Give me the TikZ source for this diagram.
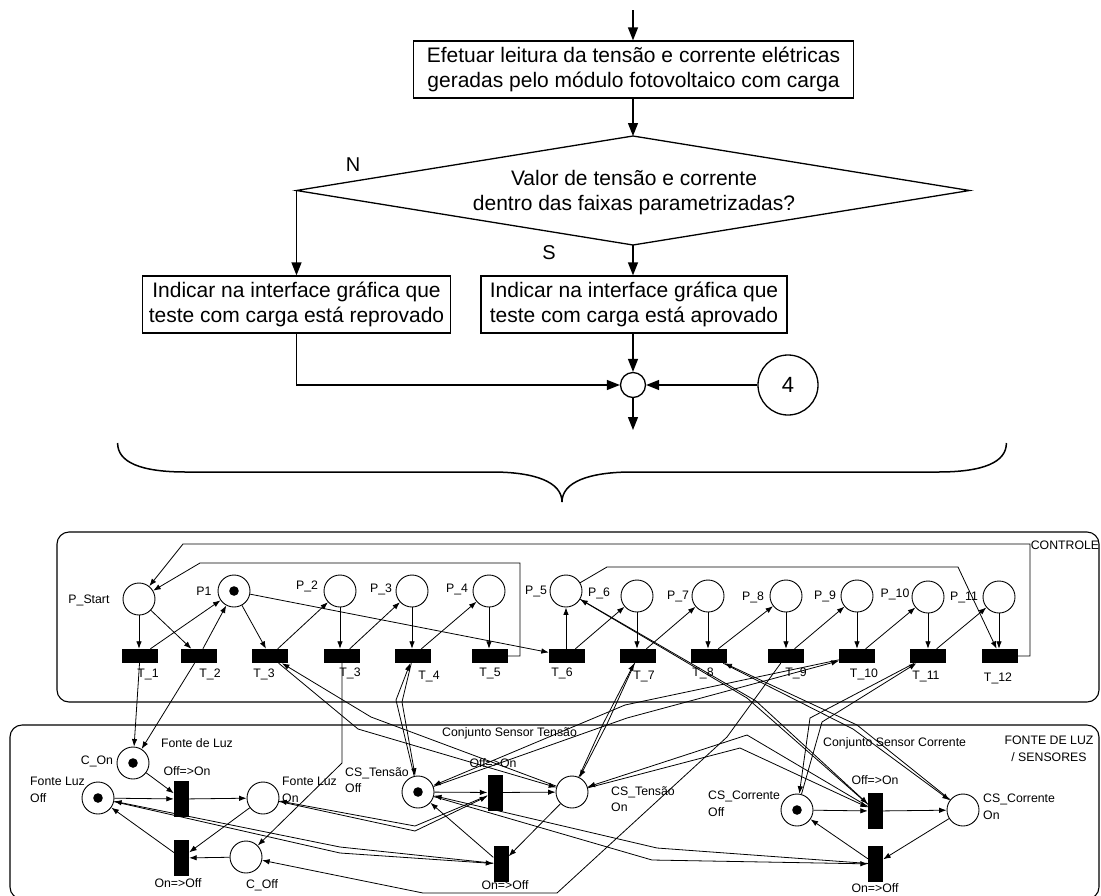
\documentclass[tikz,border=0pt]{standalone}
\usepackage{fontspec}
\setmainfont{Liberation Sans}
\usetikzlibrary{arrows.meta,calc}
\begin{document}
\begin{tikzpicture}[x=1pt,y=-1pt,
  ftext/.style={inner sep=0pt,align=center,font=\fontsize{21}{25}\selectfont},
  flow/.style={ftext,draw,line width=1.3pt,minimum height=57pt},
  farr/.style={line width=1.3pt,-{Triangle[length=13pt,width=10pt]}},
  fline/.style={line width=1.3pt},
  pl/.style={draw,circle,line width=0.9pt,minimum size=32pt,inner sep=0pt},
  tr/.style={fill=black,minimum width=36pt,minimum height=14pt,inner sep=0pt},
  trv/.style={fill=black,minimum width=15pt,minimum height=36pt,inner sep=0pt},
  lbl/.style={inner sep=0pt,align=left,font=\fontsize{12.3}{16.5}\selectfont},
  arc/.style={line width=0.8pt,-{Latex[length=7.5pt,width=5.5pt]}},
  grp/.style={draw,line width=1.1pt,rounded corners=12pt},
]
\useasboundingbox (0,0) rectangle (1101,895);

% ---------------- flowchart ----------------
\coordinate (fstart) at (633,10);
\node[flow,minimum width=440pt] (b1) at (633.5,69.5)
  {Efetuar leitura da tensão e corrente elétricas\\geradas pelo módulo fotovoltaico com carga};
\coordinate (dT) at (633,136);
\coordinate (dL) at (296.5,190.5);
\coordinate (dR) at (969.5,190.5);
\coordinate (dB) at (633,245);
\draw[fline] (dT) -- (dR) -- (dB) -- (dL) -- cycle;
\node[ftext] (dq) at (634,192.5) {Valor de tensão e corrente\\dentro das faixas parametrizadas?};
\node[ftext,font=\fontsize{20}{24}\selectfont] (lN) at (353,165) {N};
\node[ftext,font=\fontsize{20}{24}\selectfont] (lS) at (549,253) {S};
\node[flow,minimum width=308pt] (lb) at (296.5,304.5)
  {Indicar na interface gráfica que\\teste com carga está reprovado};
\node[flow,minimum width=306pt] (rb) at (634,304.5)
  {Indicar na interface gráfica que\\teste com carga está aprovado};
\node[draw,circle,line width=1.3pt,minimum size=25pt,inner sep=0pt] (jc) at (633,385) {};
\node[draw,circle,line width=1.3pt,minimum size=60pt,inner sep=0pt,font=\fontsize{22}{26}\selectfont] (c4) at (788,385) {4};
\coordinate (fend) at (633,430);

\draw[farr] (fstart) -- (b1.north -| fstart);
\draw[farr] (b1.south -| dT) -- (dT);
\draw[farr] (dL) -- (dL |- lb.north);
\draw[farr] (dB) -- (dB |- rb.north);
\draw[farr] (lb.south) |- (jc.west);
\draw[farr] (jc.north |- rb.south) -- (jc.north);
\draw[farr] (c4.west) -- (jc.east);
\draw[farr] (jc.south) -- (fend);

% brace
\draw[line width=1.5pt] (117.6,443) .. controls (117.6,462) and (140,472) .. (186,472) -- (492,472)
  .. controls (535,472) and (562,482) .. (562,502);
\draw[line width=1.5pt] (562,502) .. controls (562,482) and (589,472) .. (632,472) -- (938,472)
  .. controls (984,472) and (1006.4,462) .. (1006.4,443);

% ---------------- group frames ----------------
\draw[grp] (57,532) rectangle (1099,702);
\draw[grp] (10,725) rectangle (1099,899);
\node[lbl] (tctl) at (1065,545) {CONTROLE};
\node[lbl,align=center] (tfls) at (1049,749) {FONTE DE LUZ\\/ SENSORES};

% ---------------- control net ----------------
\node[pl] (PS)  at (139,599) {};
\node[pl] (P1)  at (234,591) {};
\node[pl] (P2)  at (340,591) {};
\node[pl] (P3)  at (412,591) {};
\node[pl] (P4)  at (489,591) {};
\node[pl] (P5)  at (566,591) {};
\node[pl] (P6)  at (637,596) {};
\node[pl] (P7)  at (708,596) {};
\node[pl] (P8)  at (786,596) {};
\node[pl] (P9)  at (857,596) {};
\node[pl] (P10) at (928,597) {};
\node[pl] (P11) at (999,597) {};
\fill (P1) circle (4.8);

\node[tr] (T1)  at (140,656) {};
\node[tr] (T2)  at (199,656) {};
\node[tr] (T3)  at (270,656) {};
\node[tr] (T3b) at (342,656) {};
\node[tr] (T4)  at (413,656) {};
\node[tr] (T5)  at (490,656) {};
\node[tr] (T6)  at (567,656) {};
\node[tr] (T7)  at (638,656) {};
\node[tr] (T8)  at (709,656) {};
\node[tr] (T9)  at (786,656) {};
\node[tr] (T10) at (857,656) {};
\node[tr] (T11) at (928,656) {};
\node[tr] (T12) at (1000,656) {};

\node[lbl] (lPS)  at (89,600) {P\_Start};
\node[lbl] (lP1)  at (204,591) {P1};
\node[lbl] (lP2)  at (307,586) {P\_2};
\node[lbl] (lP3)  at (381,589) {P\_3};
\node[lbl] (lP4)  at (457,589) {P\_4};
\node[lbl] (lP5)  at (536,591) {P\_5};
\node[lbl] (lP6)  at (599,593) {P\_6};
\node[lbl] (lP7)  at (678,596) {P\_7};
\node[lbl] (lP8)  at (753,597) {P\_8};
\node[lbl] (lP9)  at (825,596) {P\_9};
\node[lbl] (lP10) at (895,594) {P\_10};
\node[lbl] (lP11) at (964,597) {P\_11};

\node[lbl] (lT1)  at (148,674) {T\_1};
\node[lbl] (lT2)  at (210,674) {T\_2};
\node[lbl] (lT3)  at (264,674) {T\_3};
\node[lbl] (lT3b) at (350,673) {T\_3};
\node[lbl] (lT4)  at (429,676) {T\_4};
\node[lbl] (lT5)  at (490,673) {T\_5};
\node[lbl] (lT6)  at (562,673) {T\_6};
\node[lbl] (lT7)  at (644,676) {T\_7};
\node[lbl] (lT8)  at (703,673) {T\_8};
\node[lbl] (lT9)  at (796,673) {T\_9};
\node[lbl] (lT10) at (864,674) {T\_10};
\node[lbl] (lT11) at (926,676) {T\_11};
\node[lbl] (lT12) at (998,678) {T\_12};

\draw[arc] (PS) -- (PS |- T1.north);
\draw[arc] (PS) -- (T2);
\draw[arc] (T1) -- (P1);
\draw[arc] (T2) -- (P1);
\draw[arc] (P1) -- (T3);
\draw[arc] (T3) -- (P2);
\draw[arc] (P1) -- (T6);
\draw[arc] (P2) -- (P2 |- T3b.north);
\draw[arc] (T3b) -- (P3);
\draw[arc] (P3) -- (P3 |- T4.north);
\draw[arc] (T4) -- (P4);
\draw[arc] (P4) -- (P4 |- T5.north);
\draw[arc] (T6.north -| P5) -- (P5);
\draw[arc] (T6) -- (P6);
\draw[arc] (P6) -- (P6 |- T7.north);
\draw[arc] (T7) -- (P7);
\draw[arc] (P7) -- (P7 |- T8.north);
\draw[arc] (T8) -- (P8);
\draw[arc] (P8) -- (P8 |- T9.north);
\draw[arc] (T9) -- (P9);
\draw[arc] (P9) -- (P9 |- T10.north);
\draw[arc] (T10) -- (P10);
\draw[arc] (P10) -- (P10 |- T11.north);
\draw[arc] (T11) -- (P11);
\draw[arc] (P11) -- (P11 |- T12.north);

% return loops
\coordinate (la1) at (520,563);
\coordinate (la2) at (200,563);
\draw[arc] (T5.east) -| (la1) -- (la2) -- (PS);
\coordinate (lb1) at (1030,544);
\coordinate (lb2) at (183,544);
\draw[arc] (T12.east) -| (lb1) -- (lb2) -- (PS);
\coordinate (lc1) at (607,567);
\coordinate (lc2) at (958,567);
\draw[arc] (P5) -- (lc1) -- (lc2) -- (T12);

% ---------------- light source / sensors net ----------------
\node[pl] (Con)    at (133,763) {};
\node[pl] (FLoff)  at (98,798) {};
\node[pl] (FLon)   at (263,798) {};
\node[pl] (Coff)   at (246,857) {};
\node[pl] (CSToff) at (418,792) {};
\node[pl] (CSTon)  at (572,792) {};
\node[pl] (CSCoff) at (797,810) {};
\node[pl] (CSCon)  at (963,810) {};
\fill (Con) circle (4.8);
\fill (FLoff) circle (4.8);
\fill (CSToff) circle (4.8);
\fill (CSCoff) circle (4.8);

\node[trv] (tLon)  at (181.5,799) {};
\node[trv] (tLoff) at (181.5,858) {};
\node[trv] (tTon)  at (495,792.5) {};
\node[trv] (tToff) at (501,864) {};
\node[trv] (tCon)  at (875.5,811) {};
\node[trv] (tCoff) at (875.5,864) {};

\node[lbl] (lCon)  at (97,761) {C\_On};
\node[lbl] (lFL)   at (197,743) {Fonte de Luz};
\node[lbl] (lLon)  at (187,771) {Off=>On};
\node[lbl,anchor=west] (lFLoff) at (30,790) {Fonte Luz\\Off};
\node[lbl,anchor=west] (lFLon)  at (282,790) {Fonte Luz\\On};
\node[lbl] (lLoff) at (178,883) {On=>Off};
\node[lbl] (lCoff) at (262,885) {C\_Off};
\node[lbl,anchor=west] (lCSToff) at (345,780) {CS\_Tensão\\Off};
\node[lbl] (lTon)  at (493,763) {Off=>On};
\node[lbl,anchor=west] (lCST) at (442,733) {Conjunto Sensor Tensão};
\node[lbl,anchor=west] (lCSTon) at (611,799) {CS\_Tensão\\On};
\node[lbl] (lToff) at (505,885) {On=>Off};
\node[lbl,anchor=west] (lCSCoff) at (708,804) {CS\_Corrente\\Off};
\node[lbl,anchor=west] (lCSC) at (823,743) {Conjunto Sensor Corrente};
\node[lbl] (lCon2) at (875,780) {Off=>On};
\node[lbl,anchor=west] (lCSCon) at (983,807) {CS\_Corrente\\On};
\node[lbl] (lCoff2) at (875,888) {On=>Off};

% light source cycle
\draw[arc] (T1) -- (Con);
\draw[arc] (T2) -- (Con);
\draw[arc] (Con) -- (tLon);
\draw[arc] (FLoff) -- (tLon);
\draw[arc] (tLon) -- (FLon);
\draw[arc] (FLon) -- (tLoff);
\draw[arc] (Coff) -- (tLoff);
\draw[arc] (tLoff) -- (FLoff);

% voltage sensor cycle
\draw[arc] (CSToff) -- (tTon);
\draw[arc] (tTon) -- (CSTon);
\draw[arc] (CSTon) -- (tToff);
\draw[arc] (tToff) -- (CSToff);

% current sensor cycle
\draw[arc] (CSCoff) -- (tCon);
\draw[arc] (tCon) -- (CSCon);
\draw[arc] (CSCon) -- (tCoff);
\draw[arc] (tCoff) -- (CSCoff);

% commands to C_Off
\coordinate (m1) at (342,763);
\draw[arc] (T3b) -- (m1) -- (Coff);
\coordinate (n1) at (727,737);
\coordinate (n2) at (557,893);
\coordinate (n3) at (423,893);
\draw[arc] (T9) -- (n1) -- (n2) -- (n3) -- (Coff);

% test arcs (pairs)
\coordinate (a1) at (371,717);
\coordinate (a2) at (358,729);
\draw[arc] (CSTon) -- (a1) -- (T3);
\draw[arc] (T3) -- (a2) -- (CSTon);

\coordinate (b1p) at (396,700);
\coordinate (b2p) at (402,702);
\draw[arc] (CSToff) -- (b1p) -- (T4);
\draw[arc] (T4) -- (b2p) -- (CSToff);

\coordinate (c1) at (603,724);
\coordinate (c2) at (607,724);
\draw[arc] (CSTon) -- (c1) -- (T7);
\draw[arc] (T7) -- (c2) -- (CSTon);

\coordinate (d1) at (625,705);
\coordinate (d2) at (627,718);
\draw[arc] (T10) -- (d1) -- (CSToff);
\draw[arc] (CSToff) -- (d2) -- (T10);

\coordinate (e1) at (857,725);
\coordinate (e2) at (853,729);
\draw[arc] (CSCon) -- (e1) -- (T8);
\draw[arc] (T8) -- (e2) -- (CSCon);

\coordinate (f1) at (810,718);
\coordinate (f2) at (822,722);
\draw[arc] (T11) -- (f1) -- (CSCoff);
\draw[arc] (CSCoff) -- (f2) -- (T11);

\coordinate (g1) at (747,698);
\coordinate (g2) at (756,701);
\draw[arc] (tCon) -- (g1) -- (P5);
\draw[arc] (P5) -- (g2) -- (tCon);

\coordinate (h1) at (747,735);
\coordinate (h2) at (740,748);
\draw[arc] (tCon) -- (h1) -- (CSTon);
\draw[arc] (CSTon) -- (h2) -- (tCon);

\coordinate (i1) at (657,848);
\coordinate (i2) at (652,860);
\draw[arc] (tCoff) -- (i1) -- (CSToff);
\draw[arc] (CSToff) -- (i2) -- (tCoff);

\coordinate (j1) at (415,826);
\coordinate (j2) at (415,831);
\draw[arc] (tTon) -- (j1) -- (FLon);
\draw[arc] (FLon) -- (j2) -- (tTon);

\coordinate (k1) at (340,847);
\coordinate (k2) at (340,853);
\draw[arc] (tToff) -- (k1) -- (FLoff);
\draw[arc] (FLoff) -- (k2) -- (tToff);

\end{tikzpicture}
\end{document}
